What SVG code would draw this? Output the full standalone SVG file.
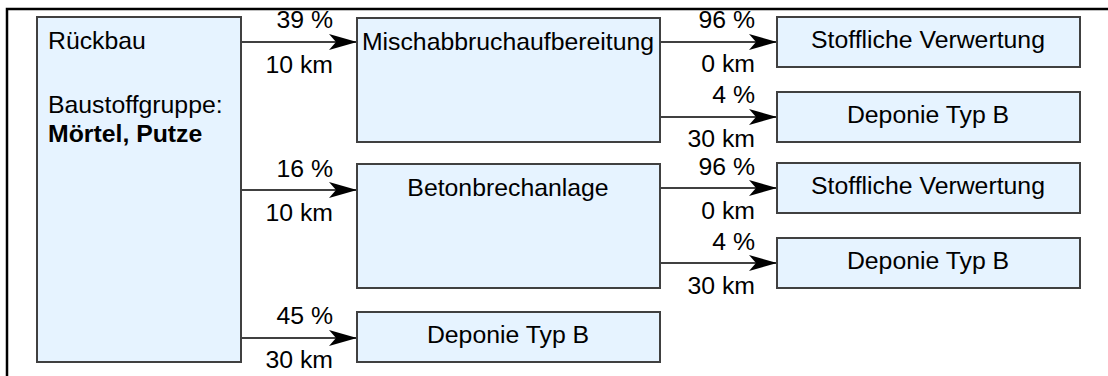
<svg xmlns="http://www.w3.org/2000/svg" width="1108" height="376" viewBox="0 0 1108 376">
<defs>
<marker id="ah" viewBox="0 0 28 18" refX="28" refY="9" markerWidth="28" markerHeight="18" markerUnits="userSpaceOnUse" orient="auto">
<path d="M0,1 L28,9 L0,17 L7,9 Z" fill="#000"/>
</marker>
<style>
.box{fill:#E6F3FF;stroke:#404040;stroke-width:2}
text{font-family:"Liberation Sans",Arial,sans-serif;font-size:24.8px;fill:#000}
.c{text-anchor:middle}
.e{text-anchor:end}
.b{font-weight:bold}
.ln{stroke:#000;stroke-width:1.5;fill:none}
</style>
</defs>
<rect width="1108" height="376" fill="#fff"/>
<polyline points="7,376 7,9 1108,9" fill="none" stroke="#000" stroke-width="2.5"/>
<g id="connectors">
<line class="ln" x1="241" y1="42" x2="357" y2="42" marker-end="url(#ah)"/>
<line class="ln" x1="241" y1="190" x2="357" y2="190" marker-end="url(#ah)"/>
<line class="ln" x1="241" y1="338" x2="357" y2="338" marker-end="url(#ah)"/>
<line class="ln" x1="660" y1="42" x2="777" y2="42" marker-end="url(#ah)"/>
<line class="ln" x1="660" y1="117" x2="777" y2="117" marker-end="url(#ah)"/>
<line class="ln" x1="660" y1="188" x2="777" y2="188" marker-end="url(#ah)"/>
<line class="ln" x1="660" y1="263" x2="777" y2="263" marker-end="url(#ah)"/>
<text class="e" x="333" y="28">39 %</text>
<text class="e" x="333" y="73">10 km</text>
<text class="e" x="333" y="177">16 %</text>
<text class="e" x="333" y="221">10 km</text>
<text class="e" x="333" y="324">45 %</text>
<text class="e" x="333" y="368">30 km</text>
<text class="e" x="755" y="28">96 %</text>
<text class="e" x="755" y="72">0 km</text>
<text class="e" x="755" y="103">4 %</text>
<text class="e" x="755" y="147">30 km</text>
<text class="e" x="755" y="175">96 %</text>
<text class="e" x="755" y="219">0 km</text>
<text class="e" x="755" y="250">4 %</text>
<text class="e" x="755" y="294">30 km</text>
</g>
<g id="rueckbau">
<rect class="box" x="37" y="17" width="204" height="345"/>
<text x="48" y="49">Rückbau</text>
<text x="48" y="113">Baustoffgruppe:</text>
<text class="b" x="48" y="142">Mörtel, Putze</text>
</g>
<g id="mischabbruch">
<rect class="box" x="357" y="18" width="303" height="124"/>
<text class="c" x="508" y="50">Mischabbruchaufbereitung</text>
</g>
<g id="betonbrech">
<rect class="box" x="357" y="164" width="303" height="124"/>
<text class="c" x="508" y="196">Betonbrechanlage</text>
</g>
<g id="deponie3">
<rect class="box" x="357" y="312" width="303" height="50"/>
<text class="c" x="508" y="343">Deponie Typ B</text>
</g>
<g id="stoff1">
<rect class="box" x="777" y="17" width="303" height="50"/>
<text class="c" x="928" y="48">Stoffliche Verwertung</text>
</g>
<g id="deponie1">
<rect class="box" x="777" y="92" width="303" height="50"/>
<text class="c" x="928" y="123">Deponie Typ B</text>
</g>
<g id="stoff2">
<rect class="box" x="777" y="163" width="303" height="50"/>
<text class="c" x="928" y="194">Stoffliche Verwertung</text>
</g>
<g id="deponie2">
<rect class="box" x="777" y="238" width="303" height="50"/>
<text class="c" x="928" y="269">Deponie Typ B</text>
</g>
</svg>
